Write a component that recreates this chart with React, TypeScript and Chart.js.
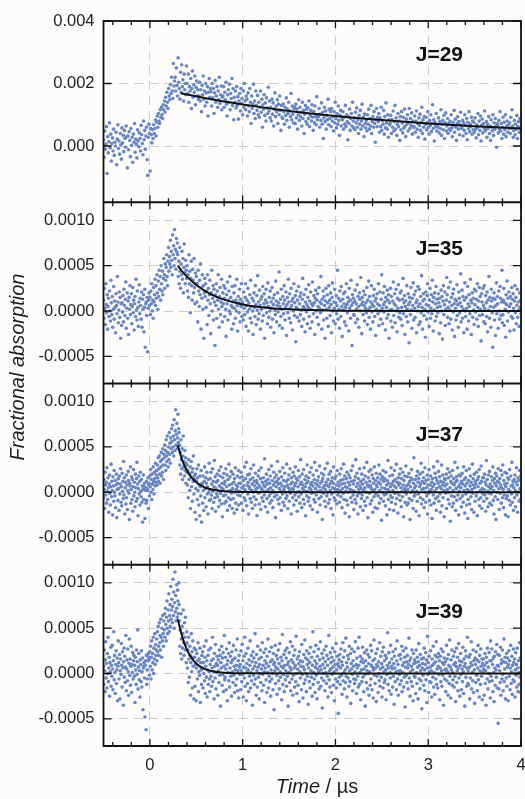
import React, { useEffect, useRef } from "react";
import { Chart, registerables } from "chart.js";

Chart.register(...registerables);

// ---------------- data ----------------
// Every trace is sampled evenly from TIME_START to TIME_END (µs)
const TIME_START = -0.5;
const TIME_END = 4;
// J=29 trace values are in units of 2e-5, the other traces and all fits in units of 1e-5
const J29_UNIT = 2e-5;
const HIGH_J_UNIT = 1e-5;
const FIT_UNIT = 1e-5;

const PANEL_NAMES = ["J=29", "J=35", "J=37", "J=39"];

const J29_SIGNAL = [
10,-18,24,-5,3,31,-44,15,-11,7,37,-3,19,-24,4,13,-8,27,-15,6,
0,22,-30,11,34,-4,8,-13,20,2,-21,29,5,17,-9,25,12,-2,32,15,
-35,16,-6,23,9,-17,28,1,14,-26,19,6,36,-10,11,3,-19,26,8,-1,
21,12,-8,33,18,4,-14,40,10,25,-5,16,30,-22,-47,14,35,20,-40,28,
18,5,26,12,34,20,28,42,16,38,48,30,52,40,36,58,46,62,50,44,
66,58,72,54,78,64,86,70,60,92,80,74,98,84,110,88,76,132,96,104,
110,88,125,97,80,141,102,92,75,118,86,130,95,106,72,115,90,100,82,128,
100,84,115,70,95,88,108,60,92,120,78,98,86,112,66,94,104,80,90,75,
80,102,72,90,55,97,82,112,75,88,64,100,85,70,95,48,86,108,78,92,
87,64,100,77,92,52,85,105,70,80,95,62,88,74,110,68,82,96,58,78,
80,95,62,86,74,102,67,48,82,90,70,99,58,84,76,108,65,92,42,78,
70,88,61,95,65,79,43,72,84,56,92,68,76,50,88,62,100,72,58,80,
75,48,85,64,55,92,70,36,80,60,67,99,52,72,44,88,65,57,81,50,
70,46,62,88,54,75,30,66,59,82,49,69,40,77,61,52,94,56,72,45,
62,40,75,51,69,32,59,85,47,64,55,74,36,67,50,80,57,25,65,46,
44,67,55,35,62,49,77,41,59,52,70,30,56,47,84,42,64,51,37,60,
62,36,67,45,59,27,50,74,41,62,47,54,32,70,44,57,20,51,65,39,
59,35,61,44,72,31,49,57,40,66,46,25,55,37,64,47,34,79,42,50,
47,60,30,51,41,69,35,54,12,45,62,39,56,27,49,42,75,34,59,44,
55,31,60,40,47,24,55,37,70,44,29,52,35,64,41,17,49,57,32,46,
42,55,27,46,35,65,31,50,39,10,47,36,59,25,44,52,32,70,40,29,
45,26,54,37,61,30,42,20,49,35,57,27,40,67,32,46,15,51,36,29,
41,24,50,35,59,27,44,32,65,20,39,47,30,55,36,6,42,60,31,46,
39,52,22,45,31,62,25,41,35,57,19,47,29,69,37,27,50,14,42,34,
36,49,20,42,30,56,24,39,65,27,45,17,35,52,31,40,9,47,26,55,
37,21,46,29,59,32,15,43,35,50,24,38,60,28,44,33,53,19,40,30,
31,48,22,40,56,27,36,14,45,33,51,25,38,62,20,42,30,47,11,35,
46,26,37,55,30,19,41,33,50,23,36,66,28,42,8,38,31,52,24,34,
30,45,21,39,28,58,17,35,41,26,49,12,37,53,24,32,44,20,36,27,
40,25,50,29,15,38,33,57,22,43,30,9,36,47,27,39,18,34,54,28,
29,41,16,37,25,50,33,20,44,10,38,28,55,23,35,31,46,19,40,26,
38,22,45,27,13,34,30,52,18,40,25,48,8,33,43,21,36,29,56,24,
26,39,14,35,28,47,20,32,9,42,30,24,50,17,37,27,44,31,-2,36,
33,21,41,27,55,24,36,12,30,46,19,38,26,50,15,32,40,22,34,28,
37,20,46,29,58,32,14,25,41,18,35,27,49,12,31,39,22,44,30,26,
];

const J35_SIGNAL = [
12,-8,25,3,-15,30,7,-2,18,-20,5,14,-6,22,0,-11,34,9,-4,16,
-18,2,27,-9,11,4,-24,19,6,-3,38,10,-13,1,21,-7,15,-30,8,-16,
9,-1,17,-12,24,6,-5,13,32,-19,3,20,-8,11,-26,15,2,28,-4,7,
19,-14,5,26,-2,12,-21,8,16,-6,35,1,-10,22,4,-17,10,29,-3,14,
6,-9,21,-18,13,2,18,-23,4,24,-40,8,10,-5,15,-45,3,12,20,6,
15,-4,22,8,30,0,12,-8,26,10,18,35,6,28,14,40,20,2,33,16,
45,24,38,12,50,30,22,44,18,36,58,40,25,52,34,48,62,38,28,55,
70,44,60,52,78,48,66,56,40,84,62,72,50,90,58,68,46,80,65,75,
62,38,55,30,70,44,25,52,40,66,35,58,20,48,74,42,30,56,45,36,
50,22,40,15,62,30,44,-2,36,55,28,12,46,34,20,58,26,8,42,30,
38,10,30,-12,45,22,5,34,18,52,-20,26,14,40,2,28,-30,20,36,16,
30,4,22,-15,40,12,25,-5,18,34,8,-25,20,45,0,14,28,-10,24,10,
-38,18,6,30,-8,22,12,40,2,-18,16,26,-4,10,35,5,-12,20,8,28,
14,-6,25,2,-28,18,8,32,-10,12,22,0,38,-3,15,6,-20,27,4,11,
-14,20,3,28,-8,12,0,35,6,-22,16,9,-2,24,-12,13,5,30,-6,10,
8,-10,21,3,-4,15,30,-17,6,12,-1,25,-22,9,2,18,-8,34,5,-13,
14,0,-26,11,20,4,-6,28,7,-15,17,1,39,-9,10,-3,23,6,-20,13,
2,16,-11,27,-5,8,19,-30,4,12,24,-2,9,-14,31,5,-7,15,0,22,
-18,10,3,26,-9,14,7,-24,18,1,-4,33,11,-12,6,20,-1,9,43,-16,
5,13,-6,24,2,-19,16,8,-3,28,12,-10,4,21,-27,7,15,-2,35,10,
-8,19,3,-13,25,6,11,-21,14,0,30,-5,9,17,-34,4,22,-7,12,2,
27,-11,8,16,-4,20,1,-17,13,36,5,-9,18,3,-23,10,24,-1,7,-14,
15,4,29,-6,11,-19,21,2,8,-12,32,6,-3,17,9,-26,14,23,0,12,
-7,19,5,-15,26,3,10,-2,38,8,-20,13,1,22,-10,16,6,-30,11,25,
2,-8,18,9,-17,28,4,12,-5,20,7,-24,15,31,0,-11,10,3,24,-14,
9,17,-3,6,45,-9,14,2,-19,22,11,-6,27,5,-28,13,1,19,8,-12,
21,4,-16,30,7,-2,15,10,-22,25,3,12,-8,34,6,-38,18,9,14,-4,
-5,11,23,-13,8,2,29,-9,16,5,-18,20,13,0,37,7,-25,15,10,-4,
22,6,-11,18,3,9,-2,26,-15,12,1,33,-7,16,4,-20,10,28,-1,7,
-12,17,5,24,-6,11,-27,14,2,19,8,-3,30,-16,6,21,0,-9,13,40,
3,-14,20,7,-1,27,10,-21,15,4,-8,23,12,-4,18,-30,9,1,25,-11,
16,2,-18,11,32,-5,8,19,-13,6,24,0,-23,14,3,29,-7,12,-2,20,
-9,22,4,-16,13,36,-3,9,17,-26,5,11,-6,28,2,-12,19,7,-35,15,
10,-4,26,1,-19,14,6,31,-10,18,3,-7,22,9,-24,12,0,27,5,-15,
24,8,-12,16,-2,39,4,-20,11,19,-5,13,2,-29,21,7,-9,17,30,-1,
6,-17,12,25,-8,3,18,-3,34,10,-22,15,1,20,-11,8,27,-6,13,4,
-2,19,9,-25,14,5,-13,23,0,16,-31,11,28,-4,7,21,-16,2,12,37,
18,-7,4,26,-14,10,1,32,-9,15,6,-21,19,-1,24,8,-28,13,3,-10,
11,29,-5,7,-18,21,14,-2,9,41,-12,5,23,-8,16,2,-24,12,31,0,
-6,15,3,-20,27,8,-11,18,5,-3,35,12,-26,9,20,-7,14,1,-15,24,
7,-1,22,13,-9,30,4,-17,11,26,-5,16,2,-33,19,10,-4,25,6,-12,
28,3,-14,17,9,-6,21,-23,12,1,38,-8,15,5,-18,24,11,-2,-40,14,
4,20,-10,13,-27,6,31,-3,16,8,-19,22,0,-9,27,14,-5,10,45,-13,
-4,12,25,-16,9,2,-29,18,7,33,-11,14,-1,21,5,-22,16,8,-6,26,
13,-8,19,3,-21,11,28,-2,15,-14,6,24,-7,10,1,-17,20,4,12,-3,
];

const J37_SIGNAL = [
-6,14,3,-18,22,8,-3,11,-12,27,1,-8,16,5,-22,9,19,-1,-14,6,
31,-5,12,2,-25,17,7,-10,24,0,-4,13,-17,8,20,-28,3,10,-9,15,
4,-20,18,-2,9,26,-11,6,-15,21,1,12,-7,34,-3,16,-24,5,11,-13,
19,-6,8,-19,2,23,13,-1,-30,10,7,28,-12,3,17,-8,14,-21,6,25,
-4,11,0,-16,20,5,-10,15,33,-7,9,-26,4,18,-2,12,-14,22,1,-5,
14,-11,7,-33,3,19,-8,6,10,-29,2,5,-12,12,-9,4,2,16,-18,8,
10,-4,18,6,25,0,14,-8,20,9,3,28,12,-2,22,15,7,32,11,19,
24,8,30,16,38,12,26,40,20,10,34,28,44,18,36,22,48,30,14,42,
38,52,30,46,24,58,40,34,62,44,28,50,36,66,42,54,32,60,48,70,
56,44,74,50,62,40,80,58,46,68,91,52,64,76,48,60,86,55,70,66,
52,30,44,20,58,36,26,48,14,40,62,28,34,18,46,24,38,10,32,22,
30,8,24,-6,36,14,20,2,28,-18,16,34,6,22,-10,26,12,40,-2,18,
14,-22,20,4,-30,12,26,-8,16,2,30,-14,8,-26,18,6,-4,24,-33,10,
8,-12,18,2,-20,12,28,-6,4,16,-16,10,22,-2,6,-24,14,0,32,-9,
3,15,-8,22,-3,9,-18,26,1,12,-11,6,35,-6,17,-21,4,11,-2,20,
-5,13,2,-16,24,7,-9,18,-1,28,-13,5,10,-27,16,3,-4,21,9,-12,
12,-3,26,-10,6,19,-20,1,14,-6,31,8,-15,17,2,-8,23,-1,9,-18,
4,20,-7,11,-23,15,0,27,-12,8,3,-19,18,6,-3,24,-14,10,1,16,
-4,10,22,-12,5,17,0,-20,13,7,-6,28,3,-9,15,1,33,-15,8,19,
-2,11,-24,6,20,4,-7,14,26,-11,2,9,-18,16,0,30,-5,12,7,-14,
21,3,-8,13,-26,10,5,18,-1,24,-13,7,0,15,-19,27,4,-6,11,2,
-10,16,8,-3,37,6,-16,12,1,20,-7,9,-22,14,3,25,-4,10,-12,18,
5,-1,29,-9,13,2,-17,8,22,0,-5,16,11,-28,6,19,-3,12,34,-8,
9,15,-13,4,23,-6,10,1,-20,17,7,-2,27,-11,13,3,-15,21,6,0,
-7,12,31,-4,8,-18,14,5,19,-10,2,26,-1,9,-24,16,4,11,-6,22,
3,-14,18,7,-3,28,10,-9,15,0,-21,13,6,24,-5,1,17,-12,9,36,
-2,11,-17,20,4,8,-8,25,2,-13,14,6,-26,18,10,-4,30,1,12,-10,
16,-6,5,22,-15,9,3,27,-1,11,-19,7,19,0,-8,14,33,-11,4,10,
-3,24,8,-22,13,1,17,-7,6,29,-14,10,2,-5,21,12,-30,15,5,-1,
19,7,-10,26,3,-16,11,8,-4,32,0,14,-12,6,20,-8,9,2,23,-18,
12,-2,16,5,-25,10,28,-6,4,15,-9,1,18,8,-13,24,3,-3,11,0,
7,-11,20,2,13,-5,26,9,-17,4,14,-1,31,-8,10,18,-23,6,1,15,
-9,22,5,-14,11,0,19,-27,8,16,3,-6,24,12,-11,2,29,-3,9,-19,
13,1,-8,17,36,-12,6,21,-4,10,-24,15,3,-1,26,7,-16,12,4,-7,
20,-3,9,-20,14,2,27,-10,5,18,-15,11,0,33,-6,8,-28,16,6,23,
-1,12,-13,7,25,4,-9,19,1,-22,15,10,-5,28,3,-17,13,-2,21,8,
6,-18,16,-4,11,30,-12,2,20,9,-7,14,-31,5,17,0,24,-10,12,-3,
15,4,-15,22,-2,8,-25,13,3,35,-8,10,1,-19,18,6,-4,27,-11,9,
-6,19,2,12,-20,7,24,-1,14,-13,5,31,-7,11,0,-23,16,8,-3,20,
10,-9,26,5,-16,15,1,-5,22,8,-27,13,4,18,-11,2,29,-2,7,-14,
17,3,-12,9,21,-7,12,-30,6,16,0,25,-9,14,2,-18,10,38,-4,5,
-3,14,7,-21,18,1,-10,23,11,-2,15,-26,6,20,-6,9,32,-13,3,12,
22,-8,4,16,-17,10,27,0,-11,13,5,-4,19,-24,8,14,-1,25,-9,2,
8,18,-14,3,11,-29,15,6,-3,28,-12,9,1,21,-7,16,-20,4,13,34,
-5,10,23,-10,6,17,-2,-22,12,4,30,-15,8,19,-6,11,2,-27,15,7,
14,-1,20,-18,9,3,26,-8,16,0,-13,22,5,-32,12,18,-4,10,-16,24,
2,-12,15,8,-5,33,11,-20,4,17,-9,13,27,-3,6,-25,19,1,9,-7,
18,5,-16,12,21,-4,9,-11,28,2,14,-23,7,16,-2,24,-14,10,3,-29,
-8,13,1,26,-13,7,18,-5,11,-19,3,31,-1,15,8,-22,20,5,-10,12,
9,-4,22,0,-26,14,6,17,-8,25,-15,10,2,-6,29,12,-18,4,16,-2,
16,-10,3,20,-3,11,-21,8,35,-7,14,1,-16,19,6,-1,23,-12,9,4,
-2,17,-14,6,13,28,-9,2,-24,15,10,-5,21,-30,7,18,0,12,-8,26,
11,4,-19,15,-1,8,24,-12,5,19,-6,30,3,-17,13,-3,9,22,-25,6,
-7,21,10,-4,16,-27,3,14,-9,25,1,-14,18,7,-2,33,-11,8,12,-20,
5,14,-6,19,2,-16,11,27,-3,8,-22,16,0,13,-10,24,4,-8,18,1,
];

const J39_SIGNAL = [
8,-12,26,3,-20,15,35,-5,11,-16,22,0,40,-9,6,18,-25,12,2,29,
-14,9,-3,31,5,-18,14,46,-7,20,1,-22,10,25,-11,4,17,-30,8,36,
12,-6,21,-28,3,16,-1,33,9,-15,24,6,-35,13,28,-4,19,-10,7,42,
-19,5,15,-8,27,2,-24,11,38,-2,16,-13,8,30,-21,10,1,23,-6,14,
20,-3,9,-32,18,4,-12,26,-1,13,48,-17,7,22,-7,3,-26,15,10,-9,
25,-15,2,17,-40,6,8,12,-5,-48,9,14,-62,20,-12,4,-6,14,22,18,
15,-2,24,8,30,-6,18,36,4,22,12,40,0,28,16,44,10,32,20,26,
38,14,46,24,52,30,20,56,34,42,26,60,40,18,50,36,64,44,30,58,
48,66,40,72,54,36,62,80,50,44,70,58,88,46,64,76,52,96,60,70,
82,56,74,104,64,90,50,78,112,68,86,58,98,72,62,92,80,66,100,76,
58,30,48,22,66,38,16,52,28,44,70,34,20,56,40,26,62,32,12,46,
34,6,26,-10,40,16,-4,30,20,-24,12,44,2,24,-16,36,8,18,-28,28,
18,-14,10,26,-30,6,22,-6,14,34,-20,2,16,-2,28,-32,12,4,-12,20,
6,24,-16,12,0,30,-8,18,-22,8,36,-4,14,-26,4,20,-12,26,2,-6,
-20,10,28,-3,14,-14,6,40,-9,16,2,-28,22,8,-5,32,-17,11,1,19,
9,-24,15,3,-10,26,-2,20,-36,12,6,30,-13,17,-1,23,-20,8,42,-7,
-4,18,5,-18,27,10,-30,14,1,22,-8,34,-15,6,19,-3,12,-25,24,2,
15,-10,31,-2,8,-21,17,4,-13,26,9,-6,38,-19,3,14,-27,20,7,-1,
10,-18,25,3,-9,32,-1,14,-26,7,19,-5,40,-14,6,22,-30,11,2,-11,
28,4,-20,15,-3,9,36,-16,1,20,-8,13,-35,5,24,-2,17,-12,8,44,
-6,12,-24,21,3,-15,30,7,-4,16,-28,10,0,26,-10,18,5,-19,34,-1,
9,-13,23,2,-32,14,6,27,-7,11,-21,19,1,38,-16,8,-3,24,-9,13,
-25,4,29,-6,15,0,-18,22,10,-40,12,3,31,-11,7,20,-2,-23,16,5,
26,-8,11,-17,33,2,-4,18,8,-29,14,43,-12,6,-1,21,-20,9,25,-7,
3,17,-14,28,-3,10,-36,13,1,23,-10,7,35,-19,4,15,-6,30,-24,12,
-2,20,6,-15,26,9,-9,41,0,-22,16,5,-13,19,11,-31,24,2,-5,14,
8,-18,32,-1,13,-27,7,21,-11,4,37,-7,17,0,-20,25,10,-3,15,-34,
6,22,-9,12,-16,29,3,-4,18,-25,9,46,-12,1,24,-6,14,-21,7,31,
-2,11,-28,19,5,-10,27,2,-17,15,8,35,-14,4,-5,22,-38,10,17,0,
-8,26,6,-19,13,1,30,-11,20,-3,9,-26,16,42,-7,3,-15,23,5,12,
-21,18,-1,28,7,-13,14,2,-30,24,10,-6,33,-16,4,19,-9,11,-44,8,
15,-4,21,-12,6,27,-2,13,-23,9,34,-8,18,1,-17,25,4,-10,39,-3,
12,-26,7,20,-5,16,-14,30,3,-9,22,-33,11,5,27,-1,-19,14,8,-6,
24,-11,2,35,-7,10,-22,17,6,-3,28,-15,9,40,-12,1,19,-29,13,4,
-9,16,29,-4,12,-20,5,23,-1,-36,14,8,-10,26,3,-17,21,0,11,-24,
18,2,-13,31,-6,9,25,-18,7,14,-27,4,37,-2,16,-11,6,22,-31,10,
-3,27,8,-21,13,0,-8,34,-14,5,19,-4,11,-26,24,7,-16,29,2,-10,
14,-7,20,4,-29,17,-1,9,45,-12,6,23,-19,12,1,-5,31,-23,8,16,
5,-15,24,-3,11,-34,19,6,-9,27,2,-18,14,36,-6,10,-24,3,20,-1,
-12,21,3,16,-8,30,-20,9,1,25,-15,12,-4,18,-37,7,28,-2,13,-10,
20,6,-17,10,39,-5,14,-25,2,17,-9,8,26,-14,4,-30,22,11,-3,15,
-4,12,-22,26,1,-11,18,7,-28,13,33,-6,9,-17,21,3,-8,16,-39,6,
11,-2,17,-13,28,4,-19,10,23,-7,15,-32,6,41,-1,12,-21,19,2,-9,
7,25,-10,3,-26,16,9,-4,30,-15,11,1,-23,20,13,-6,35,-12,5,18,
-16,8,22,-1,14,-29,6,19,-9,27,3,-14,12,-2,24,-35,10,17,-6,4,
13,-20,5,31,-8,16,2,-24,21,9,-11,37,-3,7,-27,15,4,26,-13,1,
-7,19,10,-15,24,-3,12,-31,8,28,-10,3,18,-19,6,33,-5,14,-25,9,
22,-1,-18,13,5,-9,29,2,-22,16,8,-36,11,25,-4,19,-14,6,40,-11,
3,-13,18,7,-28,21,-5,12,35,-17,9,1,-8,26,-21,14,4,-33,17,10,
-10,24,-2,15,-19,6,31,-7,13,-26,20,3,-12,27,8,-3,16,-29,11,2,
16,5,-24,9,22,-11,3,-35,18,12,-6,28,-17,7,0,23,-9,14,-27,36,
-3,14,27,-8,10,-20,17,1,-31,19,6,-13,24,4,-4,32,-16,9,21,-55,
8,-17,20,3,-10,29,-24,11,15,-6,26,-1,-19,13,38,-9,5,18,-28,12,
-5,22,-14,7,17,-30,10,25,-3,14,-18,6,31,-11,2,19,-23,9,-7,27,
12,-9,16,-26,4,23,-2,10,-15,28,6,-20,14,1,-12,34,-4,17,-21,7,
];

// fitted decay curves (time in µs, value in units of 1e-5)
const J29_FIT_TIME = [0.33, 0.5, 0.75, 1, 1.25, 1.5, 2, 2.5, 3, 3.5, 4];
const J29_FIT_VALUE = [169, 159, 145, 133, 122, 112, 96, 83, 72, 63, 56];
const J35_FIT_TIME = [0.3, 0.35, 0.4, 0.5, 0.6, 0.7, 0.8, 1, 1.2, 1.5, 2, 3, 4];
const J35_FIT_VALUE = [50, 43.5, 37.9, 28.7, 21.7, 16.5, 12.5, 7.1, 4.1, 1.8, 0.4, 0, 0];
const J37_FIT_TIME = [0.3, 0.35, 0.4, 0.45, 0.5, 0.55, 0.6, 0.7, 0.8, 1, 2, 4];
const J37_FIT_VALUE = [52, 35, 24, 16.4, 11, 7.6, 5, 2.4, 1.1, 0.2, 0, 0];
const J39_FIT_TIME = [0.3, 0.35, 0.4, 0.45, 0.5, 0.55, 0.6, 0.7, 0.8, 1, 2, 4];
const J39_FIT_VALUE = [60, 40, 26, 17, 11, 7, 4.6, 2, 0.9, 0.2, 0, 0];

// axes
const J29_RANGE = [-0.0018, 0.004];
const J29_TICKS = [0, 0.002, 0.004];
const HIGH_J_RANGE = [-0.0008, 0.0012];
const HIGH_J_TICKS = [-0.0005, 0, 0.0005, 0.001];
const TIME_TICKS = [0, 1, 2, 3, 4];
const TIME_MINOR_TICKS = [-0.4, -0.2, 0.2, 0.4, 0.6, 0.8, 1.2, 1.4, 1.6, 1.8, 2.2, 2.4, 2.6, 2.8, 3.2, 3.4, 3.6, 3.8];

// ---------------- styles ----------------
const FONT = "'Liberation Sans', Arial, Helvetica, sans-serif";
const TEXT_COLOR = "#1e1e1e";
const DOT_COLOR = "rgb(104,134,194)";
const GRID_COLOR = "#cdcdcd";
const NAME_TIME = 3.12;
const NAME_VALUE = [0.0029, 0.00068, 0.00063, 0.00068];

const PANELS = [
  { name: PANEL_NAMES[0], signal: J29_SIGNAL, unit: J29_UNIT, fitT: J29_FIT_TIME, fitV: J29_FIT_VALUE, range: J29_RANGE, ticks: J29_TICKS, digits: 3 },
  { name: PANEL_NAMES[1], signal: J35_SIGNAL, unit: HIGH_J_UNIT, fitT: J35_FIT_TIME, fitV: J35_FIT_VALUE, range: HIGH_J_RANGE, ticks: HIGH_J_TICKS, digits: 4 },
  { name: PANEL_NAMES[2], signal: J37_SIGNAL, unit: HIGH_J_UNIT, fitT: J37_FIT_TIME, fitV: J37_FIT_VALUE, range: HIGH_J_RANGE, ticks: HIGH_J_TICKS, digits: 4 },
  { name: PANEL_NAMES[3], signal: J39_SIGNAL, unit: HIGH_J_UNIT, fitT: J39_FIT_TIME, fitV: J39_FIT_VALUE, range: HIGH_J_RANGE, ticks: HIGH_J_TICKS, digits: 4 },
];

const framePlugin = {
  id: "frame",
  afterDatasetsDraw(chart: any) {
    const { ctx, chartArea: a, scales } = chart;
    const xs = scales.x;
    ctx.save();
    ctx.strokeStyle = "#111";
    ctx.lineWidth = 1.8;
    ctx.strokeRect(a.left, a.top, a.right - a.left, a.bottom - a.top);
    PANELS.forEach((p, i) => {
      const ys = scales["y" + i];
      ctx.beginPath();
      ctx.lineWidth = 1.8;
      ctx.moveTo(a.left, ys.bottom);
      ctx.lineTo(a.right, ys.bottom);
      ctx.stroke();
      ctx.lineWidth = 1.3;
      ctx.beginPath();
      const tick = (v: number, len: number) => {
        const px = xs.getPixelForValue(v);
        ctx.moveTo(px, ys.top);
        ctx.lineTo(px, ys.top + len);
        ctx.moveTo(px, ys.bottom);
        ctx.lineTo(px, ys.bottom - len);
      };
      TIME_TICKS.forEach((v) => tick(v, 7));
      TIME_MINOR_TICKS.forEach((v) => tick(v, 4));
      p.ticks.forEach((v) => {
        const py = ys.getPixelForValue(v);
        ctx.moveTo(a.left, py);
        ctx.lineTo(a.left + 8, py);
        ctx.moveTo(a.right, py);
        ctx.lineTo(a.right - 8, py);
      });
      ctx.stroke();
      ctx.fillStyle = "#111";
      ctx.font = `bold 21px ${FONT}`;
      ctx.textAlign = "center";
      ctx.textBaseline = "middle";
      ctx.fillText(p.name, xs.getPixelForValue(NAME_TIME), ys.getPixelForValue(NAME_VALUE[i]));
    });

    // axis titles
    ctx.fillStyle = TEXT_COLOR;
    ctx.textBaseline = "alphabetic";
    ctx.textAlign = "left";
    const italic = `italic 20px ${FONT}`;
    const normal = `20px ${FONT}`;
    ctx.font = italic;
    const w1 = ctx.measureText("Time").width;
    ctx.font = normal;
    const w2 = ctx.measureText(" / µs").width;
    const x0 = 317 - (w1 + w2) / 2;
    ctx.font = italic;
    ctx.fillText("Time", x0, 793);
    ctx.font = normal;
    ctx.fillText(" / µs", x0 + w1, 793);

    ctx.translate(18, 367);
    ctx.rotate(-Math.PI / 2);
    ctx.font = italic;
    ctx.textAlign = "center";
    ctx.textBaseline = "middle";
    ctx.fillText("Fractional absorption", 0, 0);
    ctx.restore();
  },
};

export default function App() {
  const ref = useRef<HTMLCanvasElement | null>(null);

  useEffect(() => {
    if (!ref.current) return;
    const datasets: any[] = [];
    const scales: any = {};
    scales.x = {
      type: "linear",
      position: "bottom",
      min: TIME_START,
      max: TIME_END,
      afterBuildTicks: (s: any) => {
        s.ticks = TIME_TICKS.map((v) => ({ value: v }));
      },
      afterFit: (s: any) => {
        s.height = 53;
        s.paddingLeft = 0;
        s.paddingRight = 0;
      },
      ticks: {
        padding: 10,
        color: TEXT_COLOR,
        font: { family: FONT, size: 16.5 },
        maxRotation: 0,
        autoSkip: false,
        callback: (v: any) => String(v),
      },
      grid: { color: GRID_COLOR, lineWidth: 1, drawTicks: false },
      border: { display: false, dash: [9, 6] },
    };
    for (let i = PANELS.length - 1; i >= 0; i--) {
      const p = PANELS[i];
      scales["y" + i] = {
        type: "linear",
        position: "left",
        stack: "panels",
        stackWeight: 1,
        min: p.range[0],
        max: p.range[1],
        afterBuildTicks: (s: any) => {
          s.ticks = p.ticks.map((v) => ({ value: v }));
        },
        afterFit: (s: any) => {
          s.width = 103.5;
          s.paddingTop = 0;
          s.paddingBottom = 0;
        },
        ticks: {
          padding: 9,
          color: TEXT_COLOR,
          font: { family: FONT, size: 16.5 },
          autoSkip: false,
          callback: (v: any) => Number(v).toFixed(p.digits),
        },
        grid: { color: GRID_COLOR, lineWidth: 1, drawTicks: false },
        border: { display: false, dash: [9, 6] },
      };
    }
    PANELS.forEach((p, i) => {
      const n = p.signal.length;
      const step = (TIME_END - TIME_START) / (n - 1);
      datasets.push({
        label: p.name + " fit",
        yAxisID: "y" + i,
        data: p.fitT.map((t, k) => ({ x: t, y: p.fitV[k] * FIT_UNIT })),
        showLine: true,
        borderColor: "#111",
        borderWidth: 2,
        pointRadius: 0,
        cubicInterpolationMode: "monotone",
        order: 0,
      });
      datasets.push({
        label: p.name,
        yAxisID: "y" + i,
        data: p.signal.map((v, k) => ({ x: TIME_START + k * step, y: v * p.unit })),
        showLine: false,
        pointRadius: 1.8,
        pointBorderWidth: 0,
        pointBackgroundColor: DOT_COLOR,
        borderColor: DOT_COLOR,
        order: 1,
      });
    });

    const chart = new Chart(ref.current, {
      type: "scatter",
      data: { datasets },
      options: {
        animation: false,
        responsive: false,
        devicePixelRatio: 1,
        events: [],
        layout: { padding: { left: 0, right: 1.5, top: 21, bottom: 0 } },
        plugins: { legend: { display: false }, tooltip: { enabled: false } },
        scales,
      } as any,
      plugins: [framePlugin as any],
    });
    return () => chart.destroy();
  }, []);

  return (
    <div style={{ position: "absolute", left: 0, top: 0, width: 525, height: 799, background: "#fdfcfa" }}>
      <canvas ref={ref} width={525} height={799} style={{ display: "block", width: 525, height: 799 }} />
    </div>
  );
}
